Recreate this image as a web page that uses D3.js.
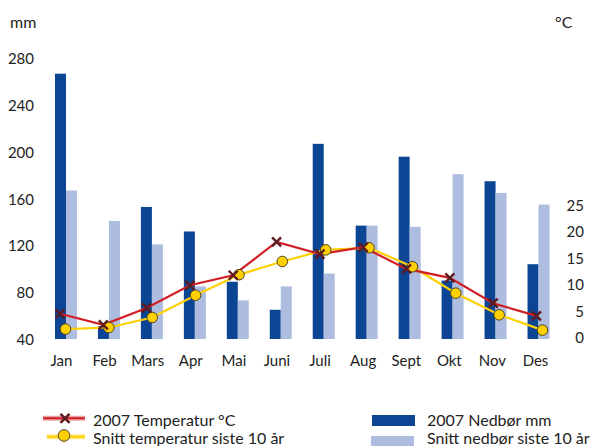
<!DOCTYPE html>
<html>
<head>
<meta charset="utf-8">
<script src="https://cdn.jsdelivr.net/npm/d3@7"></script>
<style>
  body { margin: 0; background: #fff; }
  svg { display: block; font-family: Lato, "Open Sans", sans-serif; }
  .tick text { font-size: 15px; fill: #222; }
  .lbl { font-size: 16px; fill: #222; }
  .leg { font-size: 16px; fill: #222; }
</style>
</head>
<body>
<svg id="chart" width="595" height="446"></svg>
<script>
// data
const maneder = ["Jan", "Feb", "Mars", "Apr", "Mai", "Juni", "Juli", "Aug", "Sept", "Okt", "Nov", "Des"];
const nedbor2007 = [267, 51, 153, 132, 89, 65, 207, 137, 196, 90, 175, 104];
const nedborSnitt = [167, 141, 121, 85, 73, 85, 96, 137, 136, 181, 165, 155];
const temp2007 = [4.4, 2.3, 5.5, 9.8, 11.7, 18.0, 15.7, 17.0, 12.9, 11.2, 6.4, 4.0];
const tempSnitt = [1.5, 1.8, 3.7, 7.9, 11.8, 14.3, 16.5, 16.9, 13.3, 8.3, 4.2, 1.3];
const mmTicks = [40, 80, 120, 160, 200, 240, 280];
const cTicks = [0, 5, 10, 15, 20, 25];

const MORK = "#0b4594", LYS = "#aebddf", ROD = "#d21f26", GUL = "#ffd000";

const svg = d3.select("#chart");

// skalaer
const x = d3.scaleBand().domain(maneder).range([44.5, 560]).padding(0);
const xBar = d3.scaleBand().domain(["a", "b"])
  .range([x.bandwidth() / 2 - 11, x.bandwidth() / 2 + 11]);
const xRod = d3.scalePoint().domain(maneder).range([60, 536.5]);
const xGul = d3.scalePoint().domain(maneder).range([65.5, 542.5]);
const xTekst = d3.scalePoint().domain(maneder).range([61, 535]);
const yMm = d3.scaleLinear().domain([40, 280]).range([339, 58.5]);
const yC = d3.scaleLinear().domain([0, 25]).range([337, 205]);

// søyler
const grupper = svg.append("g").selectAll("g")
  .data(maneder)
  .enter()
  .append("g")
  .attr("transform", d => `translate(${x(d)},0)`);

grupper.append("rect")
  .attr("x", xBar("a"))
  .attr("width", xBar.bandwidth())
  .attr("y", (d, i) => yMm(nedbor2007[i]))
  .attr("height", (d, i) => yMm(40) - yMm(nedbor2007[i]))
  .attr("fill", MORK);

grupper.append("rect")
  .attr("x", xBar("b"))
  .attr("width", xBar.bandwidth())
  .attr("y", (d, i) => yMm(nedborSnitt[i]))
  .attr("height", (d, i) => yMm(40) - yMm(nedborSnitt[i]))
  .attr("fill", LYS);

// linjer
const gulLinje = d3.line().x((d, i) => xGul(maneder[i])).y(d => yC(d));
const rodLinje = d3.line().x((d, i) => xRod(maneder[i])).y(d => yC(d));

svg.append("path").datum(tempSnitt)
  .attr("d", gulLinje).attr("fill", "none")
  .attr("stroke", GUL).attr("stroke-width", 2.2);

svg.append("path").datum(temp2007)
  .attr("d", rodLinje).attr("fill", "none")
  .attr("stroke", ROD).attr("stroke-width", 2.2);

// markører
function kryss(g, cx, cy) {
  const s = 4.5;
  g.append("path")
    .attr("d", `M${cx - s},${cy - s}L${cx + s},${cy + s}M${cx - s},${cy + s}L${cx + s},${cy - s}`)
    .attr("stroke", "#5e1b20").attr("stroke-width", 2.4).attr("fill", "none");
}

svg.append("g").selectAll("circle")
  .data(tempSnitt)
  .enter()
  .append("circle")
  .attr("cx", (d, i) => xGul(maneder[i]))
  .attr("cy", d => yC(d))
  .attr("r", 5.3)
  .attr("fill", GUL)
  .attr("stroke", "#4d4220")
  .attr("stroke-width", 1);

const kryssG = svg.append("g");
temp2007.forEach((d, i) => kryss(kryssG, xRod(maneder[i]), yC(d)));

// akser
const venstre = svg.append("g")
  .attr("transform", "translate(34,0)")
  .call(d3.axisLeft(yMm).tickValues(mmTicks).tickSize(0).tickPadding(0))
  .attr("font-family", null).attr("font-size", null);
venstre.select(".domain").remove();
venstre.selectAll("text").attr("dy", "0.36em");

const hoyre = svg.append("g")
  .attr("transform", "translate(584,0)")
  .call(d3.axisRight(yC).tickValues(cTicks).tickSize(0).tickPadding(0))
  .attr("font-family", null).attr("font-size", null);
hoyre.select(".domain").remove();
hoyre.selectAll("text").attr("text-anchor", "end").attr("x", 0).attr("dy", "0.36em");

const bunn = svg.append("g")
  .attr("transform", "translate(0,352)")
  .call(d3.axisBottom(xTekst).tickSize(0).tickPadding(0))
  .attr("font-family", null).attr("font-size", null);
bunn.select(".domain").remove();
bunn.selectAll("text").attr("dy", "0.95em");

svg.append("text").attr("class", "lbl").attr("x", 10).attr("y", 28).text("mm");
svg.append("text").attr("class", "lbl").attr("x", 555).attr("y", 28).text("°C");

// tegnforklaring
const leg = svg.append("g");
leg.append("line").attr("x1", 43).attr("x2", 85).attr("y1", 418.3).attr("y2", 418.3)
  .attr("stroke", "#eaa3a5").attr("stroke-width", 5);
leg.append("line").attr("x1", 43).attr("x2", 85).attr("y1", 418.3).attr("y2", 418.3)
  .attr("stroke", ROD).attr("stroke-width", 2);
kryss(leg, 65, 418.3);
leg.append("text").attr("class", "leg").attr("x", 93).attr("y", 426).text("2007 Temperatur °C");

leg.append("line").attr("x1", 47).attr("x2", 85).attr("y1", 436.7).attr("y2", 436.7)
  .attr("stroke", "#ffe98a").attr("stroke-width", 5);
leg.append("line").attr("x1", 47).attr("x2", 85).attr("y1", 436.7).attr("y2", 436.7)
  .attr("stroke", GUL).attr("stroke-width", 2);
leg.append("circle").attr("cx", 64).attr("cy", 435.5).attr("r", 5.8)
  .attr("fill", GUL).attr("stroke", "#4d4220").attr("stroke-width", 1);
leg.append("text").attr("class", "leg").attr("x", 93).attr("y", 443.5).text("Snitt temperatur siste 10 år");

leg.append("rect").attr("x", 372).attr("y", 415).attr("width", 43).attr("height", 11).attr("fill", MORK);
leg.append("text").attr("class", "leg").attr("x", 427).attr("y", 426).text("2007 Nedbør mm");
leg.append("rect").attr("x", 371).attr("y", 436).attr("width", 43).attr("height", 11).attr("fill", LYS);
leg.append("text").attr("class", "leg").attr("x", 427).attr("y", 443.5).text("Snitt nedbør siste 10 år");
</script>
</body>
</html>
